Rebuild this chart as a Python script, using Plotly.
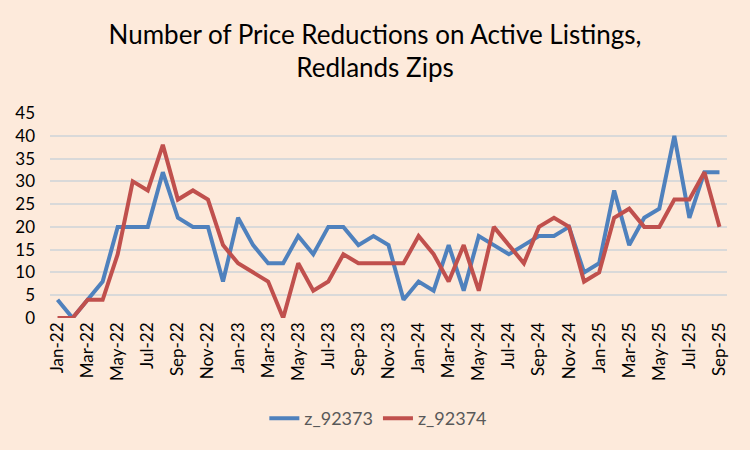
import plotly.graph_objects as go

months = ["Jan","Feb","Mar","Apr","May","Jun","Jul","Aug","Sep","Oct","Nov","Dec"]
categories = [f"{m}-{y}" for y in ["22","23","24"] for m in months] + [f"{m}-25" for m in months[:9]]

z_92373 = [4, 0, 4, 8, 20, 20, 20, 32, 22, 20, 20, 8,
           22, 16, 12, 12, 18, 14, 20, 20, 16, 18, 16, 4,
           8, 6, 16, 6, 18, 16, 14, 16, 18, 18, 20, 10,
           12, 28, 16, 22, 24, 40, 22, 32, 32]
z_92374 = [0, 0, 4, 4, 14, 30, 28, 38, 26, 28, 26, 16,
           12, 10, 8, 0, 12, 6, 8, 14, 12, 12, 12, 12,
           18, 14, 8, 16, 6, 20, 16, 12, 20, 22, 20, 8,
           10, 22, 24, 20, 20, 26, 26, 32, 20]

y_ticks = [0, 5, 10, 15, 20, 25, 30, 35, 40, 45]
x_ticks = categories[::2]

bg = "#FDEADB"
font = "Lato"

fig = go.Figure()
fig.add_trace(go.Scatter(x=categories, y=z_92373, name="z_92373", mode="lines",
                         line=dict(color="#4F81BD", width=4)))
fig.add_trace(go.Scatter(x=categories, y=z_92374, name="z_92374", mode="lines",
                         line=dict(color="#C0504D", width=4)))

fig.update_layout(
    width=750, height=450,
    paper_bgcolor=bg, plot_bgcolor=bg,
    margin=dict(l=50, r=23, t=113, b=132),
    font=dict(family=font, color="#000000"),
    title=dict(text="Number of Price Reductions on Active Listings,<br>Redlands Zips",
               x=0.5, xanchor="center", yref="container", y=0.903, yanchor="middle",
               font=dict(family=font, size=26, color="#000000")),
    showlegend=True,
    legend=dict(orientation="h", x=0.485, xanchor="center", y=-0.49, yanchor="middle",
                font=dict(family=font, size=18, color="#595959"),
                bgcolor="rgba(0,0,0,0)", itemwidth=30),
    xaxis=dict(type="category", tickmode="array", tickvals=x_ticks, ticktext=x_ticks,
               tickangle=-90, range=[-0.5, len(categories) - 0.5],
               showgrid=False, showline=False, ticks="", zeroline=False,
               tickfont=dict(family=font, size=17, color="#000000")),
    yaxis=dict(range=[0, 45], tickvals=y_ticks, showgrid=True, gridcolor="#D9D9D9",
               gridwidth=1.5, zeroline=False, showline=False, ticks="",
               ticklabelstandoff=14,
               tickfont=dict(family=font, size=17, color="#000000")),
)

fig.write_html("out.html", config={"displayModeBar": False},
               post_script="document.body.style.margin='0';")
